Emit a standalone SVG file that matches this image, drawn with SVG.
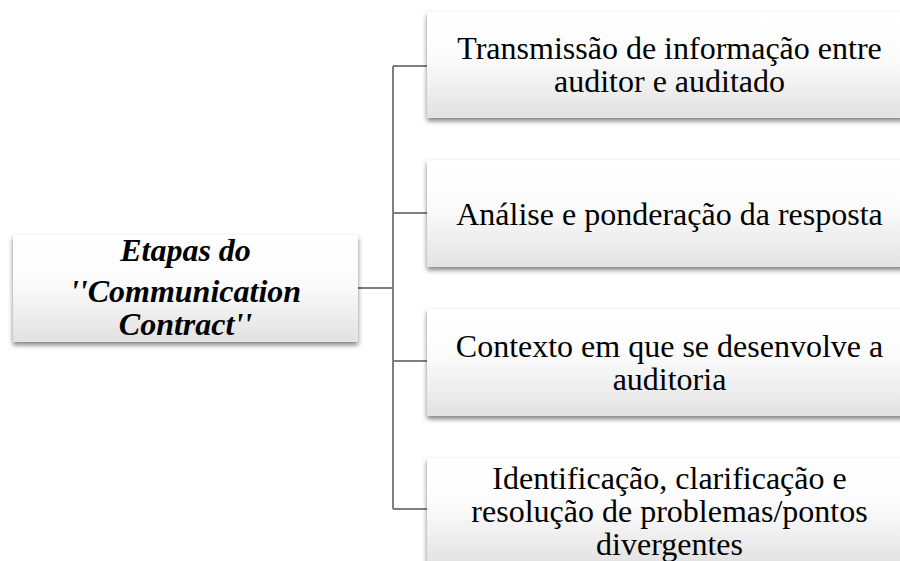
<svg xmlns="http://www.w3.org/2000/svg" width="900" height="561" viewBox="0 0 900 561">
<defs>
<linearGradient id="boxfill" x1="0" y1="0" x2="0" y2="1">
<stop offset="0" stop-color="#ffffff"/>
<stop offset="0.45" stop-color="#fbfbfb"/>
<stop offset="1" stop-color="#e2e2e2"/>
</linearGradient>
<filter id="shadow" x="-10%" y="-20%" width="120%" height="150%">
<feDropShadow dx="0" dy="3" stdDeviation="2.5" flood-color="#000000" flood-opacity="0.5"/>
</filter>
</defs>
<style>
.box{fill:url(#boxfill);filter:url(#shadow);}
.t{font-family:"Liberation Serif","Times New Roman",serif;font-size:32px;fill:#000;text-anchor:middle;}
.tb{font-weight:bold;font-style:italic;}
.conn{stroke:#7f7f7f;stroke-width:2;fill:none;}
</style>
<rect width="900" height="561" fill="#ffffff"/>
<g id="connectors">
<path class="conn" d="M358 288 H393"/>
<path class="conn" d="M393 66 V509"/>
<path class="conn" d="M393 66 H427"/>
<path class="conn" d="M393 213 H427"/>
<path class="conn" d="M393 361 H427"/>
<path class="conn" d="M393 509 H427"/>
</g>
<g id="root">
<rect class="box" x="13" y="235" width="345" height="107"/>
<text class="t tb" x="185.5" y="261">Etapas do</text>
<text class="t tb" x="185.5" y="302">''Communication</text>
<text class="t tb" x="185.5" y="335">Contract''</text>
</g>
<g id="n1">
<rect class="box" x="427" y="12" width="490" height="106"/>
<text class="t" x="669.5" y="59">Transmissão de informação entre</text>
<text class="t" x="669.5" y="92">auditor e auditado</text>
</g>
<g id="n2">
<rect class="box" x="427" y="160" width="490" height="107"/>
<text class="t" x="669.5" y="224.5">Análise e ponderação da resposta</text>
</g>
<g id="n3">
<rect class="box" x="427" y="309" width="490" height="107"/>
<text class="t" x="669.5" y="356.5">Contexto em que se desenvolve a</text>
<text class="t" x="669.5" y="389.5">auditoria</text>
</g>
<g id="n4">
<rect class="box" x="427" y="458" width="490" height="107"/>
<text class="t" x="669.5" y="489">Identificação, clarificação e</text>
<text class="t" x="669.5" y="522">resolução de problemas/pontos</text>
<text class="t" x="669.5" y="555">divergentes</text>
</g>
</svg>
